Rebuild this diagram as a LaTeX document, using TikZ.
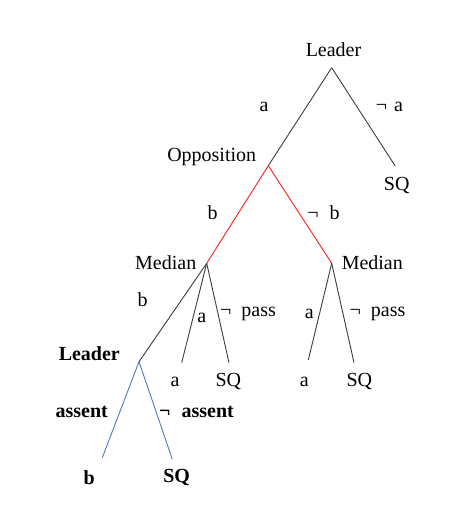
\documentclass[tikz,border=0pt]{standalone}
\usepackage{fontspec}
\setmainfont{Liberation Serif}
\usetikzlibrary{positioning,calc}
\definecolor{edgegray}{RGB}{60,60,60}
\definecolor{oppred}{RGB}{255,30,30}
\definecolor{leadblue}{RGB}{80,120,200}
\tikzset{
  lbl/.style={inner sep=0pt, font=\fontsize{20}{22}\selectfont},
  blbl/.style={lbl, font=\fontsize{20}{22}\selectfont\bfseries},
  edge/.style={draw=edgegray, line width=0.9pt},
}

\begin{document}
\begin{tikzpicture}[x=1pt, y=-1pt]
        \useasboundingbox (0,0) rectangle (469,518);

        % decision points
        \coordinate (root) at (331.7,67.7);
        \coordinate (opp) at (268.3,165.7);
        \coordinate (medL) at (206.7,263.3);
        \coordinate (medR) at (331.7,263.3);
        \coordinate (lead) at (139,361.7);

        % leaf ends
        \coordinate (sqA) at (395,165.7);
        \coordinate (aL) at (181.7,362.7);
        \coordinate (sqL) at (229,362.7);
        \coordinate (aR) at (308.3,360);
        \coordinate (sqR) at (354,362.7);
        \coordinate (bB) at (102.3,457.7);
        \coordinate (sqB) at (172.3,459.3);

        % players
        \node[lbl] (leadTop) at (333.5,49.5) {Leader};
        \node[lbl] (oppTxt) at (211.7,157.5) {Opposition};
        \node[lbl] (medLTxt) at (165.7,262.5) {Median};
        \node[lbl] (medRTxt) at (372.3,262.5) {Median};
        \node[blbl] (leadTxt) at (89.3,353.5) {Leader};

        % outcomes
        \node[lbl] (sqATxt) at (396.7,185.5) {SQ};
        \node[lbl] (aLTxt) at (175,381.5) {a};
        \node[lbl] (sqLTxt) at (228.3,381.5) {SQ};
        \node[lbl] (aRTxt) at (304.3,381.5) {a};
        \node[lbl] (sqRTxt) at (359.3,381.5) {SQ};
        \node[blbl] (bBTxt) at (89.3,477.5) {b};
        \node[blbl] (sqBTxt) at (176.7,477.5) {SQ};

        % moves
        \node[lbl] (mA) at (264,106.5) {a};
        \node[lbl] (mNotA) at (389.5,106.5) {¬\hspace{0.35em}a};
        \node[lbl] (mB) at (212.7,213) {b};
        \node[lbl] (mNotB) at (323.5,212.5) {¬\hspace{0.55em}b};
        \node[lbl] (mB2) at (142.7,299.5) {b};
        \node[lbl] (mAL) at (201.7,317.5) {a};
        \node[lbl] (mPassL) at (248,314) {¬\hspace{0.5em}pass};
        \node[lbl] (mAR) at (309.3,314) {a};
        \node[lbl] (mPassR) at (377.5,314) {¬\hspace{0.5em}pass};
        \node[blbl] (mAss) at (81.7,411.5) {assent};
        \node[blbl] (mNotAss) at (196.5,411.5) {¬\hspace{0.55em}assent};

        \draw[edge] (root) -- (opp);
        \draw[edge] (root) -- (sqA);
        \draw[oppred, line width=0.9pt] (opp) -- (medL);
        \draw[oppred, line width=0.9pt] (opp) -- (medR);
        \draw[edge] (medL) -- (lead);
        \draw[edge] (medL) -- (aL);
        \draw[edge] (medL) -- (sqL);
        \draw[edge] (medR) -- (aR);
        \draw[edge] (medR) -- (sqR);
        \draw[leadblue, line width=0.9pt] (lead) -- (bB);
        \draw[leadblue, line width=0.9pt] (lead) -- (sqB);
\end{tikzpicture}
\end{document}
